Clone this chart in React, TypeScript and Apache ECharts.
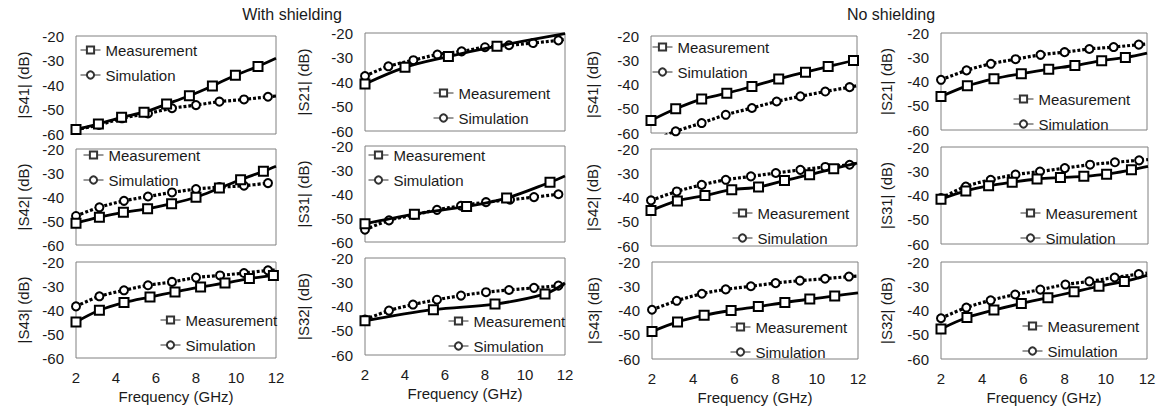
import React, { useEffect, useRef } from "react";
import * as echarts from "echarts";

// ---------- data (frequency GHz, magnitude dB) ----------
const FREQ_MIN = 2;
const FREQ_MAX = 12;
const DB_MIN = -60;
const DB_MAX = -20;
const legendNames = ["Measurement", "Simulation"];
const groupTitles = ["With shielding", "No shielding"];
const xName = "Frequency (GHz)";

// With shielding
const wS41Meas = [[2, -58.2], [3.12, -55.9], [4.28, -53.2], [5.4, -51.1], [6.53, -47.8], [7.67, -44.4], [8.82, -40.4], [9.97, -36.0], [11.1, -32.4]];
const wS41MeasEnd = [[12, -29.1]];
const wS41Sim = [[2, -58.2], [3.15, -56.3], [4.3, -53.6], [5.6, -51.6], [6.8, -49.5], [8.0, -48.2], [9.17, -46.8], [10.4, -45.9], [11.6, -44.8]];
const wS41SimEnd = [[12, -44.5]];

const wS21Meas = [[2, -40.8], [4.0, -34.0], [6.17, -29.6], [8.6, -25.4]];
const wS21MeasEnd = [[12, -20.3]];
const wS21Sim = [[2, -37.6], [3.17, -33.6], [4.42, -31.1], [5.62, -28.8], [6.83, -27.5], [8.0, -25.8], [9.2, -25.0], [10.4, -24.1], [11.67, -23.0]];
const wS21SimEnd = [[12, -22.6]];

const wS42Meas = [[2, -50.9], [3.17, -48.4], [4.37, -46.4], [5.58, -44.9], [6.78, -42.8], [8.0, -40.1], [9.17, -36.3], [10.23, -32.8], [11.37, -29.3]];
const wS42MeasEnd = [[12, -27.2]];
const wS42Sim = [[2, -47.9], [3.17, -44.3], [4.4, -41.6], [5.6, -39.8], [6.8, -38.1], [8.0, -36.7], [9.17, -35.9], [10.4, -35.3], [11.6, -34.2]];
const wS42SimEnd: number[][] = [];

const wS31Meas = [[2, -52.4], [4.47, -48.4], [7.08, -45.2], [9.08, -41.7], [11.25, -35.1]];
const wS31MeasEnd = [[12, -32.5]];
const wS31Sim = [[2, -54.9], [3.2, -51.0], [4.45, -48.7], [5.6, -46.6], [6.8, -44.9], [8.05, -43.4], [9.25, -42.4], [10.45, -41.3], [11.67, -40.1]];
const wS31SimEnd: number[][] = [];

const wS43Meas = [[2, -45.0], [3.17, -40.1], [4.4, -36.9], [5.7, -34.6], [6.95, -32.5], [8.23, -30.4], [9.45, -28.75], [10.67, -26.9], [11.87, -25.6]];
const wS43MeasEnd = [[12, -25.4]];
const wS43Sim = [[2, -38.5], [3.17, -34.3], [4.4, -31.8], [5.6, -29.7], [6.8, -28.3], [8.0, -26.5], [9.2, -25.6], [10.4, -24.6], [11.6, -23.5]];
const wS43SimEnd = [[12, -23.3]];

const wS32Meas = [[2, -45.9], [5.42, -41.3], [8.5, -39.0], [11.0, -34.8]];
const wS32MeasEnd = [[12, -30.3]];
const wS32Sim = [[2, -45.4], [3.2, -41.7], [4.4, -39.2], [5.6, -37.2], [6.8, -35.5], [8.05, -34.1], [9.2, -33.2], [10.45, -32.3], [11.67, -31.4]];
const wS32SimEnd = [[12, -30.8]];

// No shielding
const nS41Meas = [[2, -54.8], [3.2, -50.0], [4.46, -46.0], [5.68, -43.6], [6.9, -40.8], [8.2, -37.7], [9.5, -34.9], [10.6, -32.6], [11.83, -30.1]];
const nS41MeasEnd = [[12, -29.9]];
const nS41Sim = [[3.2, -59.3], [4.46, -55.9], [5.63, -52.5], [6.9, -49.7], [8.1, -47.0], [9.25, -44.9], [10.46, -42.9], [11.64, -41.1]];
const nS41SimEnd = [[2, -63.5], [12, -40.5]];

const nS21Meas = [[2, -46.2], [3.28, -41.8], [4.57, -38.9], [5.9, -36.8], [7.23, -34.9], [8.5, -33.4], [9.8, -31.4], [10.95, -30.1]];
const nS21MeasEnd = [[12, -28.3]];
const nS21Sim = [[2, -39.3], [3.24, -35.4], [4.42, -32.7], [5.62, -30.8], [6.83, -29.0], [8.0, -27.9], [9.2, -26.6], [10.38, -25.8], [11.6, -24.8]];
const nS21SimEnd = [[12, -24.5]];

const nS42Meas = [[2, -45.4], [3.28, -41.4], [4.62, -39.2], [5.92, -36.8], [7.22, -35.7], [8.48, -33.0], [9.7, -30.6], [10.87, -28.1]];
const nS42MeasEnd = [[12, -25.8]];
const nS42Sim = [[2, -41.2], [3.25, -37.5], [4.46, -34.8], [5.63, -32.7], [6.85, -31.3], [8.06, -29.9], [9.25, -28.6], [10.46, -27.4], [11.64, -26.5]];
const nS42SimEnd = [[12, -26.0]];

const nS31Meas = [[2, -41.5], [3.2, -38.1], [4.3, -36.0], [5.44, -34.5], [6.64, -33.2], [7.77, -32.6], [8.9, -32.1], [10.0, -31.2], [11.2, -29.4]];
const nS31MeasEnd = [[12, -28.0]];
const nS31Sim = [[2, -41.1], [3.2, -36.3], [4.4, -33.5], [5.6, -31.4], [6.78, -30.1], [7.98, -28.7], [9.2, -27.3], [10.4, -26.3], [11.57, -25.5]];
const nS31SimEnd = [[12, -25.2]];

const nS43Meas = [[2, -48.7], [3.24, -44.7], [4.53, -42.0], [5.84, -40.0], [7.16, -38.4], [8.45, -36.7], [9.66, -35.3], [10.87, -34.0]];
const nS43MeasEnd = [[12, -32.7]];
const nS43Sim = [[2, -39.7], [3.2, -36.0], [4.42, -33.1], [5.58, -31.3], [6.8, -30.0], [8.0, -28.7], [9.18, -27.7], [10.4, -26.9], [11.56, -26.0]];
const nS43SimEnd = [[12, -25.8]];

const nS32Meas = [[2, -47.6], [3.26, -42.9], [4.57, -39.8], [5.9, -37.1], [7.19, -34.7], [8.46, -32.3], [9.67, -30.0], [10.9, -28.0]];
const nS32MeasEnd = [[12, -25.5]];
const nS32Sim = [[2, -43.2], [3.23, -38.8], [4.41, -35.8], [5.6, -33.4], [6.82, -31.4], [8.04, -29.3], [9.2, -28.0], [10.43, -26.4], [11.6, -25.0]];
const nS32SimEnd = [[12, -24.6]];

const panels = [
  { yName: "|S41| (dB)", meas: wS41Meas, measEnd: wS41MeasEnd, sim: wS41Sim, simEnd: wS41SimEnd },
  { yName: "|S21| (dB)", meas: wS21Meas, measEnd: wS21MeasEnd, sim: wS21Sim, simEnd: wS21SimEnd },
  { yName: "|S42| (dB)", meas: wS42Meas, measEnd: wS42MeasEnd, sim: wS42Sim, simEnd: wS42SimEnd },
  { yName: "|S31| (dB)", meas: wS31Meas, measEnd: wS31MeasEnd, sim: wS31Sim, simEnd: wS31SimEnd },
  { yName: "|S43| (dB)", meas: wS43Meas, measEnd: wS43MeasEnd, sim: wS43Sim, simEnd: wS43SimEnd },
  { yName: "|S32| (dB)", meas: wS32Meas, measEnd: wS32MeasEnd, sim: wS32Sim, simEnd: wS32SimEnd },
  { yName: "|S41| (dB)", meas: nS41Meas, measEnd: nS41MeasEnd, sim: nS41Sim, simEnd: nS41SimEnd },
  { yName: "|S21| (dB)", meas: nS21Meas, measEnd: nS21MeasEnd, sim: nS21Sim, simEnd: nS21SimEnd },
  { yName: "|S42| (dB)", meas: nS42Meas, measEnd: nS42MeasEnd, sim: nS42Sim, simEnd: nS42SimEnd },
  { yName: "|S31| (dB)", meas: nS31Meas, measEnd: nS31MeasEnd, sim: nS31Sim, simEnd: nS31SimEnd },
  { yName: "|S43| (dB)", meas: nS43Meas, measEnd: nS43MeasEnd, sim: nS43Sim, simEnd: nS43SimEnd },
  { yName: "|S32| (dB)", meas: nS32Meas, measEnd: nS32MeasEnd, sim: nS32Sim, simEnd: nS32SimEnd },
];

// ---------- layout (pixels) ----------
const layouts = [
  { left: 76, top: 36, width: 200, height: 98, gap: 45, lx: 80, ly: 42, bottom: false },
  { left: 365, top: 33, width: 200, height: 98, gap: 54, lx: 433, ly: 85, bottom: false },
  { left: 76, top: 149, width: 200, height: 96, gap: 45, lx: 83, ly: 147, bottom: false },
  { left: 365, top: 146, width: 200, height: 96, gap: 54, lx: 368, ly: 147, bottom: false },
  { left: 76, top: 262, width: 200, height: 96, gap: 45, lx: 160, ly: 312, bottom: true },
  { left: 365, top: 258, width: 200, height: 97, gap: 54, lx: 448, ly: 313, bottom: true },
  { left: 651, top: 36, width: 206, height: 97, gap: 51, lx: 652, ly: 39, bottom: false },
  { left: 941, top: 33, width: 206, height: 97, gap: 47, lx: 1013, ly: 91, bottom: false },
  { left: 651, top: 149, width: 206, height: 97, gap: 51, lx: 732, ly: 205, bottom: false },
  { left: 941, top: 147, width: 207, height: 97, gap: 47, lx: 1020, ly: 205, bottom: false },
  { left: 652, top: 262, width: 206, height: 97, gap: 51, lx: 730, ly: 319, bottom: true },
  { left: 941, top: 262, width: 206, height: 97, gap: 47, lx: 1022, ly: 318, bottom: true },
];

const FONT = 'Arial, "Liberation Sans", Helvetica, sans-serif';
const TXT = "#1a1a1a";

function buildData(markers: number[][], ends: number[][]) {
  const items: any[] = markers.map((p) => ({ value: p }));
  ends.forEach((p) => items.push({ value: p, symbol: "none" }));
  items.sort((a, b) => a.value[0] - b.value[0]);
  return items;
}

function buildOption() {
  const grid: any[] = [];
  const xAxis: any[] = [];
  const yAxis: any[] = [];
  const series: any[] = [];
  const legend: any[] = [];

  panels.forEach((p, i) => {
    const L = layouts[i];
    grid.push({
      left: L.left, top: L.top, width: L.width, height: L.height,
      show: true, borderColor: "#808080", borderWidth: 1, backgroundColor: "#fff",
      containLabel: false,
    });
    xAxis.push({
      type: "value", gridIndex: i, min: FREQ_MIN, max: FREQ_MAX, interval: 2,
      axisLine: { show: false }, axisTick: { show: false }, splitLine: { show: false },
      axisLabel: { show: L.bottom, fontSize: 15, color: TXT, fontFamily: FONT, margin: 12 },
      name: L.bottom ? xName : "", nameLocation: "middle", nameGap: 31,
      nameTextStyle: { fontSize: 15, color: TXT, fontFamily: FONT },
    });
    yAxis.push({
      type: "value", gridIndex: i, min: DB_MIN, max: DB_MAX, interval: 10,
      axisLine: { show: false }, axisTick: { show: false }, splitLine: { show: false },
      axisLabel: { fontSize: 15, color: TXT, fontFamily: FONT, margin: 12, showMinLabel: true, showMaxLabel: true },
      name: p.yName, nameLocation: "middle", nameRotate: 90, nameGap: L.gap,
      nameTextStyle: { fontSize: 15, color: TXT, fontFamily: FONT },
    });
    series.push({
      name: legendNames[0], type: "line", xAxisIndex: i, yAxisIndex: i,
      data: buildData(p.meas, p.measEnd), smooth: 0.35,
      symbol: "emptyRect", symbolSize: 9, clip: true,
      lineStyle: { color: "#000", width: 2.8, type: "solid" },
      itemStyle: { color: "#000", borderColor: "#000", borderWidth: 3 },
      z: 3,
    });
    series.push({
      name: legendNames[1], type: "line", xAxisIndex: i, yAxisIndex: i,
      data: buildData(p.sim, p.simEnd), smooth: 0.35,
      symbol: "emptyCircle", symbolSize: 8, clip: true,
      lineStyle: { color: "#000", width: 3.2, type: [3, 2] },
      itemStyle: { color: "#000", borderColor: "#000", borderWidth: 3 },
      z: 2,
    });
    legend.push({
      data: legendNames, left: L.lx, top: L.ly, orient: "vertical",
      padding: 0, itemGap: 9, itemWidth: 20, itemHeight: 9,
      selectedMode: false,
      textStyle: { fontSize: 15, color: TXT, fontFamily: FONT, lineHeight: 16 },
      itemStyle: { borderWidth: 1, color: "#333", borderColor: "#333" },
      lineStyle: { width: 1, type: "solid", color: "#333" },
    });
  });

  const graphic = [
    { type: "text", x: 292, y: 14, style: { text: groupTitles[0], fontSize: 16, fontFamily: FONT, fill: TXT, align: "center", verticalAlign: "middle" } },
    { type: "text", x: 891, y: 14, style: { text: groupTitles[1], fontSize: 16, fontFamily: FONT, fill: TXT, align: "center", verticalAlign: "middle" } },
  ];

  return {
    animation: false,
    backgroundColor: "#fff",
    textStyle: { fontFamily: FONT },
    grid, xAxis, yAxis, series, legend, graphic,
  };
}

export default function App() {
  const ref = useRef<HTMLDivElement>(null);
  useEffect(() => {
    if (!ref.current) return;
    const chart = echarts.init(ref.current, undefined, { renderer: "svg" });
    chart.setOption(buildOption() as any);
    return () => chart.dispose();
  }, []);
  return (
    <div
      ref={ref}
      style={{ position: "absolute", left: 0, top: 0, width: 1161, height: 412, background: "#fff" }}
    />
  );
}
